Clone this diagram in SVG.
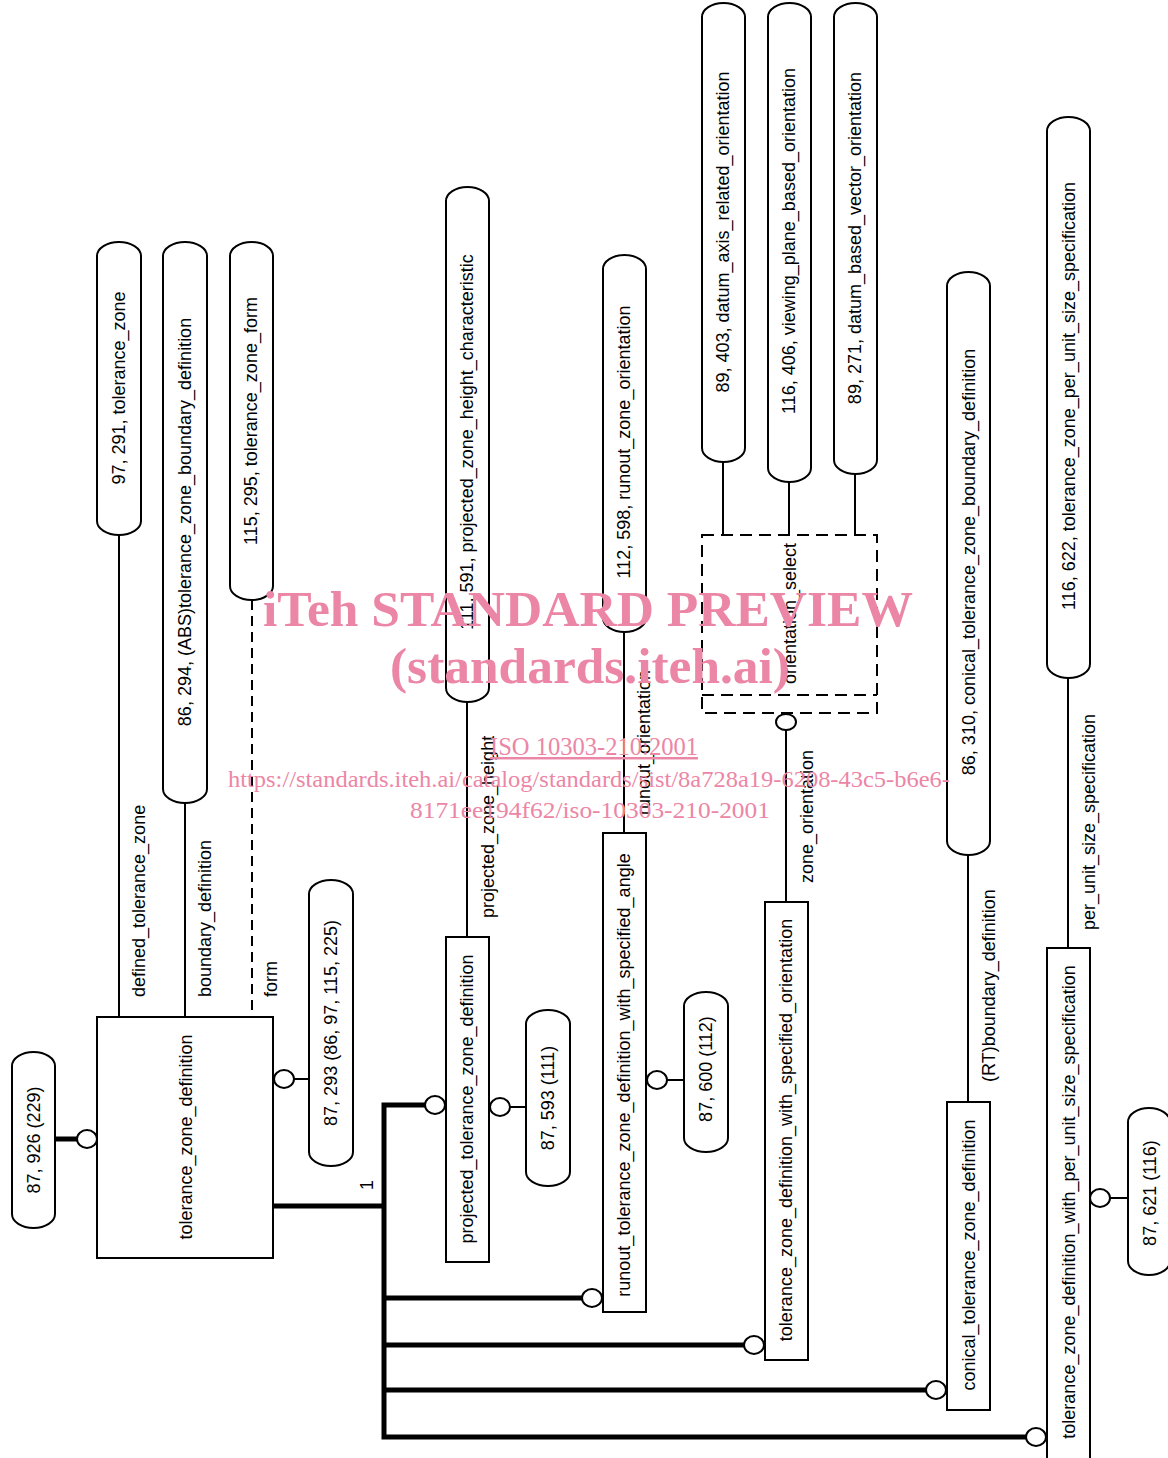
<svg xmlns="http://www.w3.org/2000/svg" width="1168" height="1458" viewBox="0 0 1168 1458">
<style>
.bx{fill:#fff;stroke:#000;stroke-width:2}
.ln{fill:none;stroke:#000;stroke-width:2}
.th{fill:none;stroke:#000;stroke-width:5}
.ds{fill:none;stroke:#000;stroke-width:2;stroke-dasharray:12 7}
.ci{fill:#fff;stroke:#000;stroke-width:2}
.t{font-family:"Liberation Sans",Arial,sans-serif;font-size:18px;fill:#000}
.wm{font-family:"Liberation Serif","Times New Roman",serif;fill:#ec86a6}
</style>
<rect width="1168" height="1458" fill="#fff"/>
<g id="connectors">
<line class="ln" x1="119" y1="535" x2="119" y2="1017"/>
<line class="ln" x1="185" y1="803" x2="185" y2="1017"/>
<line class="ln" x1="252" y1="600" x2="252" y2="1017" stroke-dasharray="10 6"/>
<line class="ln" x1="467" y1="702" x2="467" y2="937"/>
<line class="ln" x1="624" y1="632" x2="624" y2="833"/>
<line class="ln" x1="723" y1="462" x2="723" y2="535"/>
<line class="ln" x1="789" y1="482" x2="789" y2="535"/>
<line class="ln" x1="855" y1="474" x2="855" y2="535"/>
<line class="ln" x1="786" y1="730" x2="786" y2="902"/>
<line class="ln" x1="968" y1="855" x2="968" y2="1102"/>
<line class="ln" x1="1068" y1="678" x2="1068" y2="948"/>
<line class="th" x1="55" y1="1139" x2="78" y2="1139"/>
<line class="ln" x1="294" y1="1079" x2="309" y2="1079"/>
<line class="ln" x1="510" y1="1107" x2="526" y2="1107"/>
<line class="ln" x1="667" y1="1080" x2="684" y2="1080"/>
<line class="ln" x1="1110" y1="1198" x2="1128" y2="1198"/>
<line class="th" x1="273" y1="1206" x2="384" y2="1206"/>
<path class="th" d="M426,1105 H384 V1437 H1026 M384,1298 H582 M384,1345 H744 M384,1390 H926"/>
<ellipse class="ci" cx="87" cy="1139" rx="10" ry="9"/>
<ellipse class="ci" cx="284" cy="1079" rx="10" ry="9"/>
<ellipse class="ci" cx="500" cy="1107" rx="10" ry="9"/>
<ellipse class="ci" cx="657" cy="1080" rx="10" ry="9"/>
<ellipse class="ci" cx="1100" cy="1198" rx="10" ry="9"/>
<ellipse class="ci" cx="786" cy="722" rx="10" ry="8"/>
<ellipse class="ci" cx="435" cy="1105" rx="10" ry="9"/>
<ellipse class="ci" cx="592" cy="1298" rx="10" ry="9"/>
<ellipse class="ci" cx="754" cy="1345" rx="10" ry="9"/>
<ellipse class="ci" cx="936" cy="1390" rx="10" ry="9"/>
<ellipse class="ci" cx="1036" cy="1437" rx="10" ry="9"/>
<text class="t" transform="translate(145,997) rotate(-90)">defined_tolerance_zone</text>
<text class="t" transform="translate(211,997) rotate(-90)">boundary_definition</text>
<text class="t" transform="translate(277,997) rotate(-90)">form</text>
<text class="t" transform="translate(373,1190) rotate(-90)">1</text>
<text class="t" transform="translate(494,918) rotate(-90)">projected_zone_height</text>
<text class="t" transform="translate(650,815) rotate(-90)">runout_orientation</text>
<text class="t" transform="translate(813,883) rotate(-90)">zone_orientation</text>
<text class="t" transform="translate(995,1082) rotate(-90)">(RT)boundary_definition</text>
<text class="t" transform="translate(1095,930) rotate(-90)">per_unit_size_specification</text>
</g>
<g id="tolerance_zone_definition">
<rect class="bx" x="97" y="1017" width="176" height="241"/>
<text class="t" text-anchor="middle" transform="translate(192,1137) rotate(-90)">tolerance_zone_definition</text>
</g>
<g id="p_87_926">
<rect class="bx" x="12" y="1052" width="43" height="176" rx="21.5" ry="14"/>
<text class="t" text-anchor="middle" transform="translate(40,1140) rotate(-90)">87, 926 (229)</text>
</g>
<g id="tolerance_zone">
<rect class="bx" x="97" y="242" width="44" height="293" rx="22" ry="14"/>
<text class="t" text-anchor="middle" transform="translate(125,388) rotate(-90)">97, 291, tolerance_zone</text>
</g>
<g id="tolerance_zone_boundary_definition">
<rect class="bx" x="163" y="242" width="44" height="561" rx="22" ry="14"/>
<text class="t" text-anchor="middle" transform="translate(191,522) rotate(-90)">86, 294, (ABS)tolerance_zone_boundary_definition</text>
</g>
<g id="tolerance_zone_form">
<rect class="bx" x="230" y="242" width="43" height="358" rx="21.5" ry="14"/>
<text class="t" text-anchor="middle" transform="translate(257,421) rotate(-90)">115, 295, tolerance_zone_form</text>
</g>
<g id="p_87_293">
<rect class="bx" x="309" y="880" width="44" height="286" rx="22" ry="14"/>
<text class="t" text-anchor="middle" transform="translate(337,1023) rotate(-90)">87, 293 (86, 97, 115, 225)</text>
</g>
<g id="projected_zone_height_characteristic">
<rect class="bx" x="446" y="187" width="43" height="515" rx="21.5" ry="14"/>
<text class="t" text-anchor="middle" transform="translate(473,442) rotate(-90)">111, 591, projected_zone_height_characteristic</text>
</g>
<g id="projected_tolerance_zone_definition">
<rect class="bx" x="446" y="937" width="43" height="325"/>
<text class="t" text-anchor="middle" transform="translate(473,1099) rotate(-90)">projected_tolerance_zone_definition</text>
</g>
<g id="p_87_593">
<rect class="bx" x="526" y="1010" width="44" height="176" rx="22" ry="14"/>
<text class="t" text-anchor="middle" transform="translate(554,1098) rotate(-90)">87, 593 (111)</text>
</g>
<g id="runout_zone_orientation">
<rect class="bx" x="603" y="255" width="43" height="377" rx="21.5" ry="14"/>
<text class="t" text-anchor="middle" transform="translate(630,442) rotate(-90)">112, 598, runout_zone_orientation</text>
</g>
<g id="runout_tolerance_zone_definition_with_specified_angle">
<rect class="bx" x="603" y="833" width="43" height="479"/>
<text class="t" text-anchor="middle" transform="translate(630,1075) rotate(-90)">runout_tolerance_zone_definition_with_specified_angle</text>
</g>
<g id="p_87_600">
<rect class="bx" x="684" y="992" width="44" height="160" rx="22" ry="14"/>
<text class="t" text-anchor="middle" transform="translate(712,1069) rotate(-90)">87, 600 (112)</text>
</g>
<g id="datum_axis_related_orientation">
<rect class="bx" x="702" y="3" width="43" height="459" rx="21.5" ry="14"/>
<text class="t" text-anchor="middle" transform="translate(729,232) rotate(-90)">89, 403, datum_axis_related_orientation</text>
</g>
<g id="viewing_plane_based_orientation">
<rect class="bx" x="768" y="3" width="43" height="479" rx="21.5" ry="14"/>
<text class="t" text-anchor="middle" transform="translate(795,241) rotate(-90)">116, 406, viewing_plane_based_orientation</text>
</g>
<g id="datum_based_vector_orientation">
<rect class="bx" x="834" y="3" width="43" height="471" rx="21.5" ry="14"/>
<text class="t" text-anchor="middle" transform="translate(861,238) rotate(-90)">89, 271, datum_based_vector_orientation</text>
</g>
<g id="orientation_select">
<rect class="ds" x="702" y="535" width="175" height="178"/>
<line class="ds" x1="702" y1="695" x2="877" y2="695"/>
<text class="t" transform="translate(796,684) rotate(-90)">orientation_select</text>
</g>
<g id="tolerance_zone_definition_with_specified_orientation">
<rect class="bx" x="765" y="902" width="43" height="458"/>
<text class="t" text-anchor="middle" transform="translate(792,1130) rotate(-90)">tolerance_zone_definition_with_specified_orientation</text>
</g>
<g id="conical_tolerance_zone_boundary_definition">
<rect class="bx" x="947" y="272" width="43" height="583" rx="21.5" ry="14"/>
<text class="t" text-anchor="middle" transform="translate(975,562) rotate(-90)">86, 310, conical_tolerance_zone_boundary_definition</text>
</g>
<g id="conical_tolerance_zone_definition">
<rect class="bx" x="947" y="1102" width="43" height="308"/>
<text class="t" text-anchor="middle" transform="translate(975,1255) rotate(-90)">conical_tolerance_zone_definition</text>
</g>
<g id="tolerance_zone_per_unit_size_specification">
<rect class="bx" x="1047" y="117" width="43" height="561" rx="21.5" ry="14"/>
<text class="t" text-anchor="middle" transform="translate(1075,396) rotate(-90)">116, 622, tolerance_zone_per_unit_size_specification</text>
</g>
<g id="tolerance_zone_definition_with_per_unit_size_specification">
<rect class="bx" x="1047" y="948" width="43" height="520"/>
<text class="t" text-anchor="middle" transform="translate(1075,1202) rotate(-90)">tolerance_zone_definition_with_per_unit_size_specification</text>
</g>
<g id="p_87_621">
<rect class="bx" x="1128" y="1108" width="42" height="167" rx="21" ry="14"/>
<text class="t" text-anchor="middle" transform="translate(1156,1193) rotate(-90)">87, 621 (116)</text>
</g>
<g id="watermark">
<text class="wm" x="588" y="626" font-size="51" font-weight="bold" text-anchor="middle" textLength="650" lengthAdjust="spacingAndGlyphs">iTeh STANDARD PREVIEW</text>
<text class="wm" x="590" y="683" font-size="51" font-weight="bold" text-anchor="middle" textLength="400" lengthAdjust="spacingAndGlyphs">(standards.iteh.ai)</text>
<text class="wm" x="594" y="755" font-size="24.5" text-anchor="middle" text-decoration="underline" textLength="208" lengthAdjust="spacingAndGlyphs">ISO 10303-210:2001</text>
<text class="wm" x="589" y="787" font-size="24" text-anchor="middle" textLength="722" lengthAdjust="spacingAndGlyphs">https://standards.iteh.ai/catalog/standards/sist/8a728a19-6208-43c5-b6e6-</text>
<text class="wm" x="590" y="818" font-size="24" text-anchor="middle" textLength="360" lengthAdjust="spacingAndGlyphs">8171ee194f62/iso-10303-210-2001</text>
</g>
</svg>
